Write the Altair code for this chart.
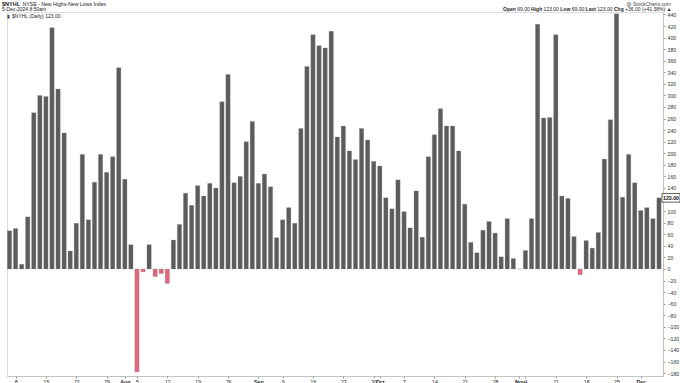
import altair as alt
import pandas as pd

# ---- data (one bar per trading day, 5-Jul-2024 .. 5-Dec-2024) ----
values = [66, 70, 8, 90, 270, 300, 298, 417, 311, 235,
          31, 79, 198, 85, 150, 198, 167, 194, 348, 155,
          42, -178, -5, 42, -13, -8, -25, 50, 77, 131,
          110, 144, 126, 148, 140, 289, 336, 149, 160, 220,
          255, 148, 164, 142, 54, 85, 106, 79, 243, 350,
          405, 386, 382, 411, 228, 247, 204, 189, 243, 223,
          186, 178, 123, 104, 154, 99, 71, 135, 55, 194,
          232, 277, 247, 247, 204, 112, 46, 28, 67, 82,
          62, 21, 87, 18, 0, 32, 87, 423, 261, 262,
          405, 126, 122, 56, -10, 49, 36, 63, 190, 258,
          441, 124, 198, 149, 101, 106, 87, 123]

tick_idx = [2, 7, 12, 17, 20, 22, 27, 32, 37, 42, 46, 51, 56, 61, 62, 66,
            71, 76, 81, 85, 86, 91, 96, 101, 105]
tick_labels = ["8", "15", "22", "29", "Aug", "5", "12", "19", "26", "Sep", "9",
               "16", "23", "30", "Oct", "7", "14", "21", "28", "Nov", "4", "11",
               "18", "25", "Dec"]
month_idx = [20, 42, 62, 85, 105]
y_ticks = list(range(-180, 441, 20))

df = pd.DataFrame({"i": list(range(1, len(values) + 1)), "v": values})

W, H = 656, 364
FONT = "Liberation Sans"
xs = alt.Scale(domain=[0.588, 108.66], nice=False, zero=False)
ys = alt.Scale(domain=[-185, 444.2], nice=False, zero=False)

pos_arr = "[" + ",".join(str(p) for p in tick_idx) + "]"
lab_arr = "[" + ",".join("'" + l + "'" for l in tick_labels) + "]"
mon_arr = "[" + ",".join(str(p) for p in month_idx) + "]"

yaxis = alt.Axis(orient="right", values=y_ticks, format="d",
                 labelExpr=f"abs(datum.value - {values[-1]}) < 10 ? '' : datum.label",
                 labelFontSize=5.2, labelColor="#333", labelPadding=2,
                 labelOverlap=False, labelFlush=False,
                 tickSize=2, tickColor="#999", domainColor="#aaa",
                 domainDash=[1, 1], grid=False)

bars = alt.Chart(df).transform_calculate(
    x0="datum.i - 0.355", x1="datum.i + 0.355", z="0"
).mark_bar(stroke="#8a8a8a", strokeWidth=0.3).encode(
    x=alt.X("x0:Q", scale=xs, title=None,
            axis=alt.Axis(orient="bottom", values=tick_idx,
                          labelExpr=f"{lab_arr}[indexof({pos_arr}, datum.value)]",
                          labelFontSize=5.2, labelColor="#222", labelPadding=1,
                          labelFontWeight=alt.ExprRef(f"indexof({mon_arr}, datum.value) >= 0 ? 'bold' : 'normal'"),
                          labelOverlap=False, labelFlush=False,
                          tickSize=2, tickColor="#999", domainColor="#aaa",
                          domainDash=[1, 1], grid=False)),
    x2="x1:Q",
    y=alt.Y("v:Q", scale=ys, title=None, axis=yaxis),
    y2="z:Q",
    color=alt.condition("datum.v < 0", alt.value("#e0687f"), alt.value("#5c5c5c")),
)

last = pd.DataFrame({"v": [values[-1]], "t": [f"{values[-1]:.2f}"]})
box = alt.Chart(last).transform_calculate(
    hi="datum.v + 7.5", lo="datum.v - 7.5"
).mark_rect(fill="white", stroke="#222", strokeWidth=0.7).encode(
    x=alt.value(655), x2=alt.value(673),
    y=alt.Y("hi:Q", scale=ys, title=None, axis=yaxis), y2="lo:Q")
box_t = alt.Chart(last).mark_text(fontSize=5.2, font=FONT, fontWeight="bold",
                                  color="#111", baseline="middle", align="center").encode(
    x=alt.value(664), y=alt.Y("v:Q", scale=ys, title=None, axis=yaxis), text="t:N")


def txt(s, x, y, bold=False, align="left", size=5, color="#222"):
    return alt.Chart(pd.DataFrame({"a": [0]})).mark_text(
        text=s, fontSize=size, font=FONT, fontWeight="bold" if bold else "normal",
        align=align, baseline="middle", color=color
    ).encode(x=alt.value(x), y=alt.value(y))


hdr = [
    txt("$NYHL", -5, -8.5, bold=True, size=5.5),
    txt("NYSE - New Highs-New Lows Index", 15.5, -8.5, size=5.2),
    txt("5-Dec-2024 8:50am", -5, -2.8, size=5),
    txt("\u25AE", 0, 3.5, size=5, color="#444"),
    txt("$NYHL (Daily) 123.00", 5, 3.5, size=5),
    txt("@ StockCharts.com", 664, -8.5, align="right", size=5, color="#444"),
    txt("Open", 496, -2.8, bold=True),
    txt("69.00", 510.2, -2.8),
    txt("High", 524.1, -2.8, bold=True),
    txt("123.00", 536.6, -2.8),
    txt("Low", 553.3, -2.8, bold=True),
    txt("69.00", 564.7, -2.8),
    txt("Last", 578.6, -2.8, bold=True),
    txt("123.00", 590.3, -2.8),
    txt("Chg", 607, -2.8, bold=True),
    txt("+36.00 (+41.38%) \u25B2", 618.1, -2.8),
]

chart = alt.layer(bars, box, box_t, *hdr).properties(
    width=W, height=H,
    autosize=alt.AutoSizeParams(type="none"),
    padding={"left": 7, "top": 12, "right": 17, "bottom": 7},
    background="white",
).configure_view(stroke="#d8d8d8", strokeWidth=1).configure(font=FONT)

chart.save("out.html", embed_options={"renderer": "svg", "actions": False})
